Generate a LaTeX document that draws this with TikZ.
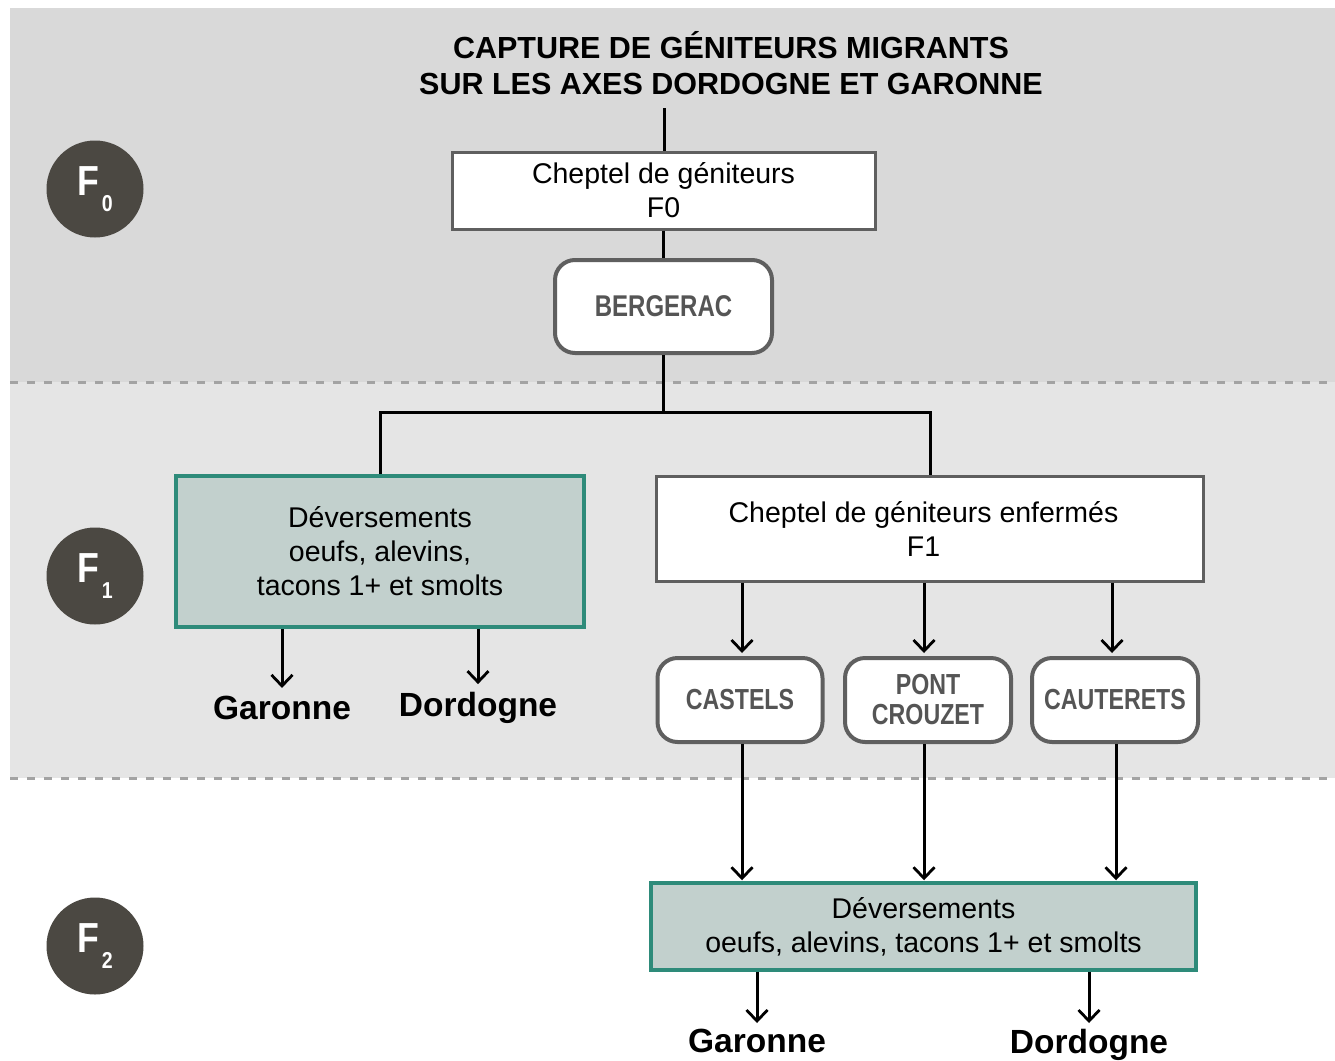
\documentclass[tikz,border=0pt]{standalone}
\usepackage{fontspec}
\setmainfont{Liberation Sans}
\newfontfamily\narrowsans{Liberation Sans}[FakeStretch=0.8]
\newfontfamily\circfont{Liberation Sans}[FakeStretch=0.85]
\usetikzlibrary{arrows.meta}
\definecolor{bandA}{HTML}{D9D9D9}
\definecolor{bandB}{HTML}{E5E5E5}
\definecolor{dashc}{HTML}{A3A3A3}
\definecolor{circc}{HTML}{4B4842}
\definecolor{greenfill}{HTML}{C2D0CD}
\definecolor{greenline}{HTML}{2E8B7A}
\definecolor{boxline}{HTML}{5F5F5F}
\definecolor{stationtext}{HTML}{555555}
\tikzset{
  conn/.style={line width=3pt, black},
  arr/.style={conn, -{Straight Barb[length=11pt,width=21pt,line width=2.8pt]}},
  whitebox/.style={draw=boxline, fill=white, line width=3pt, inner sep=0pt, align=center,
     font=\fontsize{28.5}{34}\selectfont},
  greenbox/.style={draw=greenline, fill=greenfill, line width=3.5pt, inner sep=0pt, align=center,
     font=\fontsize{28.5}{34}\selectfont},
  station/.style={draw=boxline, fill=white, line width=4pt, rounded corners=20pt, inner sep=0pt,
     align=center, text=stationtext, font=\narrowsans\bfseries\fontsize{29}{30}\selectfont},
  river/.style={font=\bfseries\fontsize{33.5}{36}\selectfont, inner sep=0pt},
  gen/.style={circle, fill=circc, minimum size=97pt, inner sep=0pt, text=white,
     font=\circfont\bfseries\fontsize{42}{42}\selectfont},
  sepline/.style={draw=dashc, line width=3pt, dash pattern=on 8pt off 9pt},
}
\newcommand{\gensub}[1]{\hspace{3pt}\raisebox{-13pt}{\fontsize{23}{23}\selectfont #1}}
\begin{document}
\begin{tikzpicture}[x=1pt,y=-1pt]
\useasboundingbox (0,0) rectangle (1335,1060);
\fill[white] (0,0) rectangle (1335,1060);
% bands
\fill[bandA] (10,8) rectangle (1335,382);
\fill[bandB] (10,382) rectangle (1335,778);
\draw[sepline] (10,382) -- (1335,382);
\draw[sepline] (10,778) -- (1335,778);

% generation circles
\node[gen] (g0) at (95,189) {\raisebox{3pt}{F}\gensub{0}};
\node[gen] (g1) at (95,576) {\raisebox{3pt}{F}\gensub{1}};
\node[gen] (g2) at (95,946) {\raisebox{3pt}{F}\gensub{2}};

% title
\node[align=center, inner sep=0pt, font=\bfseries\fontsize{30.5}{36}\selectfont, anchor=north]
  (title) at (731,31) {CAPTURE DE GÉNITEURS MIGRANTS\\SUR LES AXES DORDOGNE ET GARONNE};
\coordinate (tstart) at (664,108);

% boxes
\node[whitebox, minimum width=423pt, minimum height=77pt] (f0) at (663.5,190.5) {Cheptel de géniteurs\\F0};
\node[station, minimum width=217pt, minimum height=93pt] (berg) at (663.5,306.5) {\fontsize{30}{30}\selectfont BERGERAC};
\coordinate (junc) at (663.5,412);

\node[greenbox, minimum width=408pt, minimum height=151pt] (dv1) at (380,551.5)
  {Déversements\\oeufs, alevins,\\tacons 1+ et smolts};
\node[whitebox, minimum width=547pt, minimum height=105pt] (f1) at (929.5,528.5)
  {\hspace*{-12pt}Cheptel de géniteurs enfermés\\\hspace*{-12pt}F1};

\node[river, anchor=center] (gar1) at (282,708) {Garonne};
\node[river, anchor=center] (dor1) at (478,708) {Dordogne};

\node[station, minimum width=165pt, minimum height=84pt] (cas) at (740,700) {CASTELS};
\node[station, minimum width=166pt, minimum height=84pt] (pont) at (928,700) {PONT\\CROUZET};
\node[station, minimum width=166pt, minimum height=84pt] (caut) at (1115,700) {CAUTERETS};

\node[greenbox, minimum width=545pt, minimum height=87pt] (dv2) at (923.5,926.5)
  {Déversements\\oeufs, alevins, tacons 1+ et smolts};

\node[river, anchor=north] (gar2) at (757,1029) {Garonne};
\node[river, anchor=north] (dor2) at (1089,1029) {Dordogne};

% connectors
\draw[conn] (tstart) -- (f0.north -| tstart);
\draw[conn] (f0.south) -- (berg.north);
\draw[conn] (berg.south) -- (junc);
\draw[conn] (junc) -- (junc -| dv1.north) -- (dv1.north);
\draw[conn] (junc) -- (junc -| 930,0) -- (f1.north -| 930,0);

\draw[arr] (dv1.south -| gar1.north) -- ([yshift=8pt]gar1.north);
\draw[arr] (dv1.south -| dor1.north) -- ([yshift=8pt]dor1.north);

\draw[arr] (f1.south -| 742,0) -- ([yshift=3pt]cas.north -| 742,0);
\draw[arr] (f1.south -| 924,0) -- ([yshift=3pt]pont.north -| 924,0);
\draw[arr] (f1.south -| 1112,0) -- ([yshift=3pt]caut.north -| 1112,0);

\draw[arr] (cas.south -| 742,0) -- ([yshift=1pt]dv2.north -| 742,0);
\draw[arr] (pont.south -| 924,0) -- ([yshift=1pt]dv2.north -| 924,0);
\draw[arr] (caut.south -| 1116,0) -- ([yshift=1pt]dv2.north -| 1116,0);

\draw[arr] (dv2.south -| gar2.north) -- ([yshift=6pt]gar2.north);
\draw[arr] (dv2.south -| dor2.north) -- ([yshift=6pt]dor2.north);
\end{tikzpicture}
\end{document}
